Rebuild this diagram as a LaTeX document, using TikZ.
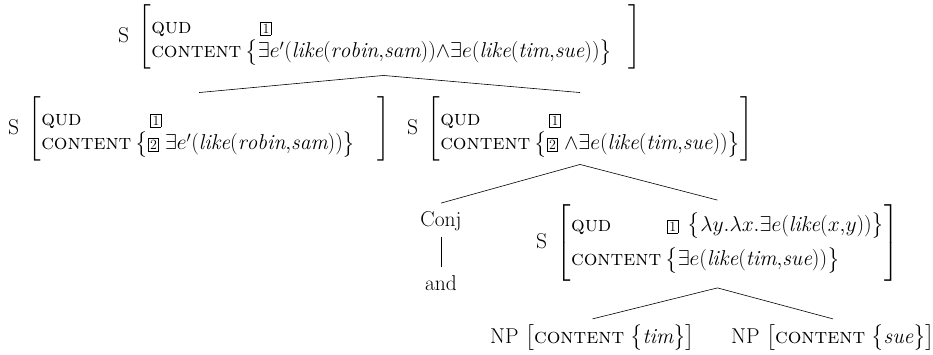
\RequirePackage{fix-cm}
\documentclass[tikz,border=0pt]{standalone}
\usepackage{amsmath,amssymb}
\usepackage{fontspec}
\newcommand{\tagbox}[1]{{\setlength{\fboxsep}{1.5pt}\setlength{\fboxrule}{0.6pt}\fbox{\fontsize{14}{15}\selectfont #1}}}
\newcommand{\sco}[1]{\textsc{#1}}
\newcommand{\andop}{\mathord{\wedge}}
\newcommand{\cmma}{\mathord{,}}
% #1 qud value, #2 content value, #3 right space, #4 extra row gap, #5 strut depth, #6 strut height, #7 first-row strut
\newcommand{\avm}[7]{$\mathrm{S}\;\left[\vphantom{\rule[-#5]{0pt}{#6}}\begin{array}{@{}l@{\hspace{4pt}}l@{}}\rule{0pt}{#7}\text{\sco{qud}} & #1\\[#4] \text{\sco{content}} & #2\end{array}\hspace{#3}\right]$}
\tikzset{
  lbl/.style={inner sep=0pt, font=\fontsize{21.5}{20}\selectfont},
  edge/.style={draw, line width=0.6pt}
}
\begin{document}
\begin{tikzpicture}[x=1pt,y=-1pt]
\useasboundingbox (0,0) rectangle (933,355);
\node[lbl, anchor=west] (top) at (118,37) {\avm{\hspace{15pt}\tagbox{1}}{\bigl\{\exists e'(\mathit{like}(\mathit{robin}\cmma\mathit{sam}))\andop\exists e(\mathit{like}(\mathit{tim}\cmma\mathit{sue}))\bigr\}}{16pt}{0pt}{20pt}{31pt}{25pt}};
\node[lbl, anchor=west] (l2) at (8,129) {\avm{\hspace{15pt}\tagbox{1}}{\bigl\{\tagbox{2}\;\exists e'(\mathit{like}(\mathit{robin}\cmma\mathit{sam}))\bigr\}}{22pt}{0pt}{20pt}{31pt}{25pt}};
\node[lbl, anchor=west] (r2) at (407,129) {\avm{\hspace{15pt}\tagbox{1}}{\bigl\{\tagbox{2}\;\andop\exists e(\mathit{like}(\mathit{tim}\cmma\mathit{sue}))\bigr\}}{0pt}{0pt}{20pt}{31pt}{25pt}};
\node[lbl] (conj) at (441,221) {Conj};
\node[lbl] (and) at (441,283) {and};
\node[lbl, anchor=west] (s3) at (536,243) {\avm{\hspace{2pt}\tagbox{1}\;\,\bigl\{\lambda y.\lambda x.\exists e(\mathit{like}(x\cmma y))\bigr\}}{\bigl\{\exists e(\mathit{like}(\mathit{tim}\cmma\mathit{sue}))\bigr\}}{0pt}{10pt}{30pt}{41pt}{0pt}};
\node[lbl, anchor=west] (np1) at (490,338) {NP $\bigl[\text{\sco{content}}\;\bigl\{\mathit{tim}\bigr\}\bigr]$};
\node[lbl, anchor=west] (np2) at (731,338) {NP $\bigl[\text{\sco{content}}\;\bigl\{\mathit{sue}\bigr\}\bigr]$};
\draw[edge] ([xshift=4pt,yshift=-6pt]top.south) -- ([yshift=4pt]l2.north);
\draw[edge] ([xshift=4pt,yshift=-6pt]top.south) -- ([yshift=4pt]r2.north);
\draw[edge] ([yshift=-3pt]r2.south) -- ([yshift=8pt]conj.north);
\draw[edge] ([yshift=-3pt]r2.south) -- ([yshift=4pt]s3.north);
\draw[edge] ([yshift=-6pt]conj.south) -- ([yshift=8pt]and.north);
\draw[edge] ([yshift=-6pt]s3.south) -- ([yshift=6pt]np1.north);
\draw[edge] ([yshift=-6pt]s3.south) -- ([yshift=6pt]np2.north);
\end{tikzpicture}
\end{document}
